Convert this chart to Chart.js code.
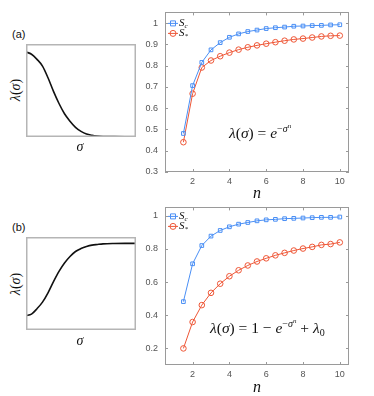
<!DOCTYPE html>
<html>
<head>
<meta charset="utf-8">
<script src="https://cdn.jsdelivr.net/npm/chart.js@4"></script>
<style>
    body { margin: 0; background: #fff; }
    #wrap { position: relative; width: 374px; height: 396px; overflow: hidden; }
    canvas { position: absolute; }
    .lbl { position: absolute; transform: translate(-50%, -50%); white-space: nowrap; color: #111; }
    .panel { font-family: "Liberation Sans", Arial, sans-serif; font-size: 11px; transform: none; }
    .math { font-family: "Liberation Serif", "DejaVu Serif", serif; }
    .math i { font-style: italic; }
    .formula { font-family: "Liberation Serif", "DejaVu Serif", serif; font-size: 15.5px; transform: translateY(-50%); }
    .formula sup { font-size: 10px; vertical-align: 6px; }
    .formula sup sup { font-size: 7px; vertical-align: 4px; }
    .formula sub { font-size: 10px; vertical-align: -3px; }
</style>
</head>
<body>
<div id="wrap">
    <canvas id="curveA" style="left:26px;top:44px"></canvas>
    <canvas id="curveB" style="left:26px;top:237px"></canvas>
    <canvas id="chartA" style="left:125px;top:0px"></canvas>
    <canvas id="chartB" style="left:125px;top:195px"></canvas>

    <div class="lbl panel" style="left:12px;top:28px">(a)</div>
    <div class="lbl panel" style="left:12px;top:221px">(b)</div>
    <div class="lbl math" style="left:16px;top:90px;font-size:14px;transform:translate(-50%,-50%) rotate(-90deg)"><i>λ</i>(<i>σ</i>)</div>
    <div class="lbl math" style="left:16px;top:284px;font-size:14px;transform:translate(-50%,-50%) rotate(-90deg)"><i>λ</i>(<i>σ</i>)</div>
    <div class="lbl math" style="left:80px;top:147px;font-size:14px"><i>σ</i></div>
    <div class="lbl math" style="left:80px;top:341px;font-size:14px"><i>σ</i></div>
    <div class="lbl math" style="left:257px;top:193px;font-size:16px"><i>n</i></div>
    <div class="lbl math" style="left:257px;top:387px;font-size:16px"><i>n</i></div>

    <div class="lbl formula" style="left:229px;top:132px"><i>λ</i>(<i>σ</i>) = <i>e</i><sup>−<i>σ</i><sup><i>n</i></sup></sup></div>
    <div class="lbl formula" style="left:210px;top:327px"><i>λ</i>(<i>σ</i>) = 1 − <i>e</i><sup>−<i>σ</i><sup><i>n</i></sup></sup> + <i>λ</i><sub>0</sub></div>
</div>

<script>
// sketch curves (normalised to their boxes)
let sigma = [0, 0.05, 0.1, 0.15, 0.2, 0.25, 0.3, 0.35, 0.4, 0.45, 0.5, 0.55, 0.6, 0.65, 0.7, 0.8, 0.9, 1.0];
let lambdaA = [0.914, 0.89, 0.835, 0.763, 0.637, 0.49, 0.36, 0.25, 0.17, 0.104, 0.061, 0.032, 0.018, 0.01, 0.006, 0.004, 0.003, 0.003];
let lambdaB = [0.156, 0.171, 0.229, 0.30, 0.40, 0.52, 0.63, 0.72, 0.79, 0.844, 0.876, 0.898, 0.913, 0.92, 0.926, 0.93, 0.931, 0.931];

// n values
let nVals = [1.5, 2, 2.5, 3, 3.5, 4, 4.5, 5, 5.5, 6, 6.5, 7, 7.5, 8, 8.5, 9, 9.5, 10];

// (a)
let scA = [0.481, 0.706, 0.815, 0.874, 0.908, 0.933, 0.949, 0.960, 0.967, 0.974, 0.978, 0.981, 0.985, 0.986, 0.988, 0.989, 0.991, 0.992];
let ssA = [0.440, 0.668, 0.791, 0.824, 0.844, 0.861, 0.875, 0.886, 0.895, 0.903, 0.910, 0.917, 0.923, 0.927, 0.932, 0.937, 0.940, 0.941];
// (b)
let scB = [0.482, 0.710, 0.820, 0.877, 0.911, 0.933, 0.949, 0.959, 0.969, 0.975, 0.978, 0.982, 0.984, 0.986, 0.988, 0.990, 0.990, 0.992];
let ssB = [0.200, 0.359, 0.461, 0.535, 0.590, 0.635, 0.671, 0.700, 0.724, 0.743, 0.761, 0.776, 0.790, 0.802, 0.812, 0.824, 0.829, 0.839];

let xTicks = [2, 4, 6, 8, 10];
let yTicksA = [0.3, 0.4, 0.5, 0.6, 0.7, 0.8, 0.9, 1];
let yTicksB = [0.2, 0.4, 0.6, 0.8, 1];

const BLUE = "#4a8ff5";
const RED = "#ee5636";

function sizeCanvas(id, w, h) {
    let c = document.getElementById(id);
    c.style.width = w + "px";
    c.style.height = h + "px";
    c.width = w;
    c.height = h;
    return c;
}

// box around plot area with inward ticks
const frame = {
    id: "frame",
    afterDraw(chart, args, opts) {
        const a = chart.chartArea;
        const ctx = chart.ctx;
        const lw = opts.width || 1;
        ctx.save();
        ctx.strokeStyle = opts.color || "#999";
        ctx.lineWidth = lw;
        ctx.strokeRect(Math.round(a.left) + lw / 2, Math.round(a.top) + lw / 2,
            Math.round(a.right - a.left) - lw, Math.round(a.bottom - a.top) - lw);
        if (opts.ticks) {
            const x = chart.scales.x, y = chart.scales.y;
            ctx.beginPath();
            x.ticks.forEach(t => {
                let px = Math.round(x.getPixelForValue(t.value)) + 0.5;
                ctx.moveTo(px, a.bottom); ctx.lineTo(px, a.bottom - 3);
                ctx.moveTo(px, a.top); ctx.lineTo(px, a.top + 3);
            });
            y.ticks.forEach(t => {
                let py = Math.round(y.getPixelForValue(t.value)) + 0.5;
                ctx.moveTo(a.left, py); ctx.lineTo(a.left + 3, py);
                ctx.moveTo(a.right, py); ctx.lineTo(a.right - 3, py);
            });
            ctx.stroke();
        }
        ctx.restore();
    }
};

// small legend with subscripts
const miniLegend = {
    id: "miniLegend",
    afterDraw(chart, args, opts) {
        if (!opts.show) return;
        const a = chart.chartArea;
        const ctx = chart.ctx;
        ctx.save();
        chart.data.datasets.forEach((ds, i) => {
            let x0 = a.left + 3;
            let y0 = a.top + opts.first + i * opts.gap;
            ctx.strokeStyle = ds.borderColor;
            ctx.lineWidth = 1;
            ctx.beginPath();
            ctx.moveTo(x0, y0); ctx.lineTo(x0 + 10, y0);
            ctx.stroke();
            ctx.beginPath();
            if (ds.pointStyle === "rect") ctx.rect(x0 + 2.5, y0 - 2.5, 5, 5);
            else ctx.arc(x0 + 5, y0, 3, 0, Math.PI * 2);
            ctx.stroke();
            ctx.fillStyle = "#111";
            ctx.textBaseline = "middle";
            ctx.font = "italic 11px 'Liberation Serif'";
            ctx.fillText("S", x0 + 11, y0);
            let w = ctx.measureText("S").width;
            ctx.font = "italic 7px 'Liberation Serif'";
            ctx.fillText(ds.sub, x0 + 11 + w, y0 + 3);
        });
        ctx.restore();
    }
};

function curveChart(id, data) {
    let c = sizeCanvas(id, 110, 93);
    return new Chart(c.getContext("2d"), {
        type: "line",
        data: {
            datasets: [{
                data: sigma.map((s, i) => ({ x: s, y: data[i] })),
                borderColor: "#111",
                borderWidth: 1.6,
                pointRadius: 0,
                cubicInterpolationMode: "monotone",
                clip: false
            }]
        },
        options: {
            responsive: false,
            animation: false,
            layout: { padding: 0 },
            plugins: { legend: { display: false }, tooltip: { enabled: false },
                frame: { color: "#b5b5b5", width: 1.5 } },
            scales: {
                x: { type: "linear", min: 0, max: 1, display: false },
                y: { min: 0, max: 1, display: false }
            }
        },
        plugins: [frame]
    });
}

function mainChart(id, sc, ss, yMin, yTicks, padTop, xH, legFirst) {
    let c = sizeCanvas(id, 249, 200);
    return new Chart(c.getContext("2d"), {
        type: "line",
        data: {
            datasets: [{
                label: "Sc", sub: "c",
                data: nVals.map((n, i) => ({ x: n, y: sc[i] })),
                borderColor: BLUE, backgroundColor: "transparent",
                borderWidth: 1, pointStyle: "rect", pointRadius: 2.6,
                pointBorderWidth: 1, pointBackgroundColor: "transparent"
            }, {
                label: "S*", sub: "*",
                data: nVals.map((n, i) => ({ x: n, y: ss[i] })),
                borderColor: RED, backgroundColor: "transparent",
                borderWidth: 1, pointStyle: "circle", pointRadius: 2.8,
                pointBorderWidth: 1, pointBackgroundColor: "transparent"
            }]
        },
        options: {
            responsive: false,
            animation: false,
            layout: { padding: { top: padTop, right: 25, bottom: 0, left: 0 } },
            plugins: {
                legend: { display: false }, tooltip: { enabled: false },
                frame: { color: "#9a9a9a", width: 1, ticks: true },
                miniLegend: { show: true, first: legFirst, gap: 10 }
            },
            scales: {
                x: {
                    type: "linear", min: 0.5, max: 10.5,
                    grid: { display: false, drawTicks: false },
                    border: { display: false },
                    afterBuildTicks: s => { s.ticks = xTicks.map(v => ({ value: v })); },
                    afterFit: s => { s.height = xH; },
                    ticks: { color: "#555", padding: 4, font: { family: "Liberation Sans", size: 9 } }
                },
                y: {
                    min: yMin, max: 1.05,
                    grid: { display: false, drawTicks: false },
                    border: { display: false },
                    afterBuildTicks: s => { s.ticks = yTicks.map(v => ({ value: v })); },
                    afterFit: s => { s.width = 40; },
                    ticks: { color: "#555", padding: 7, font: { family: "Liberation Sans", size: 9 },
                        callback: v => String(v) }
                }
            }
        },
        plugins: [frame, miniLegend]
    });
}

curveChart("curveA", lambdaA);
curveChart("curveB", lambdaB);
mainChart("chartA", scA, ssA, 0.3, yTicksA, 10, 28, 11);
mainChart("chartB", scB, ssB, 0.1, yTicksB, 8, 30, 9);
</script>
</body>
</html>
